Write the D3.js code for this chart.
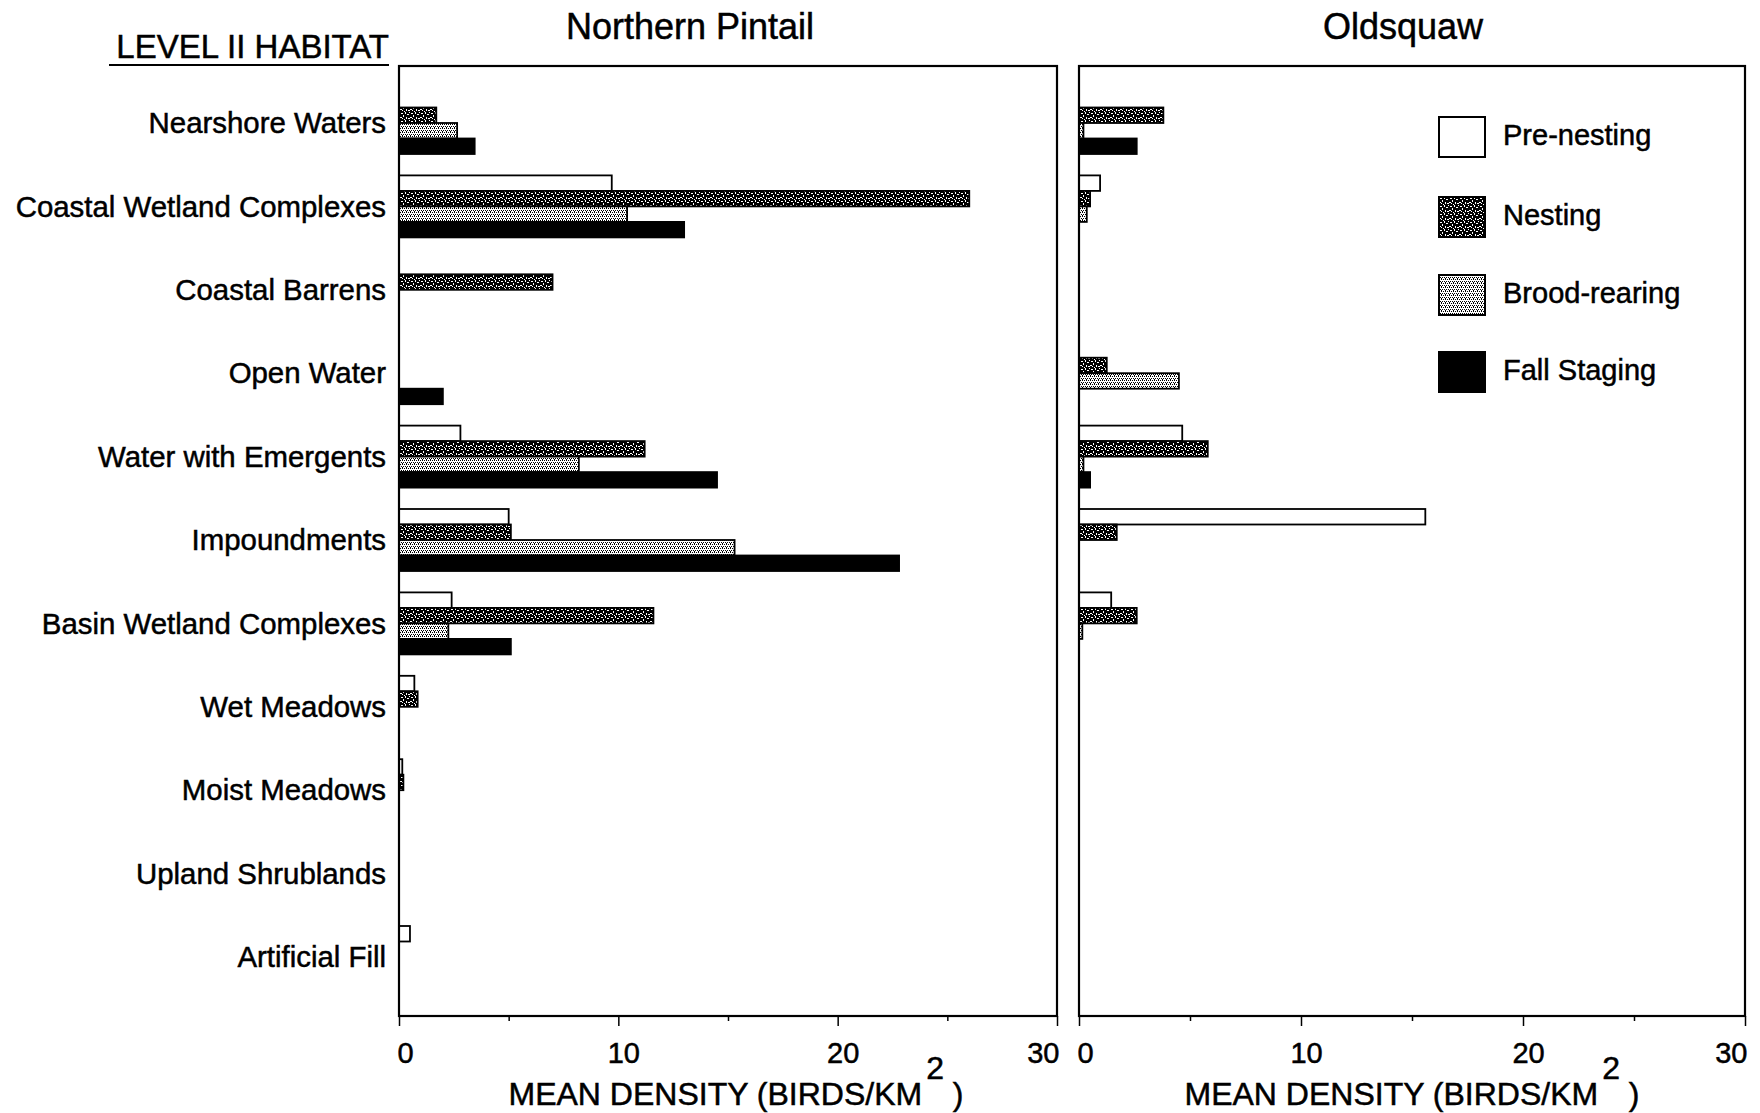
<!DOCTYPE html>
<html>
<head>
<meta charset="utf-8">
<script src="https://cdn.jsdelivr.net/npm/d3@7"></script>
<style>
  body { margin: 0; background: #fff; }
  text { font-family: "Liberation Sans", Arial, sans-serif; fill: #000; stroke: #000; stroke-width: 0.5px; }
</style>
</head>
<body>
<div id="chart"></div>
<script>
// habitat categories (top to bottom) and the four seasons
const habitats = ["Nearshore Waters", "Coastal Wetland Complexes", "Coastal Barrens", "Open Water",
    "Water with Emergents", "Impoundments", "Basin Wetland Complexes", "Wet Meadows",
    "Moist Meadows", "Upland Shrublands", "Artificial Fill"];
const seasons = ["Pre-nesting", "Nesting", "Brood-rearing", "Fall Staging"];

// mean density (birds / km2)
const pintailPre     = [0,    9.7,  0,   0,    2.8,  5.0,  2.4,  0.7,  0.15, 0, 0.5];
const pintailNesting = [1.7,  26.0, 7.0, 0,    11.2, 5.1,  11.6, 0.85, 0.2,  0, 0];
const pintailBrood   = [2.65, 10.4, 0,   0,    8.2,  15.3, 2.25, 0,    0,    0, 0];
const pintailFall    = [3.45, 13.0, 0,   2.0,  14.5, 22.8, 5.1,  0,    0,    0, 0];

const oldsquawPre     = [0,   0.95, 0, 0,    4.65, 15.6, 1.45, 0, 0, 0, 0];
const oldsquawNesting = [3.8, 0.5,  0, 1.25, 5.8,  1.7,  2.6,  0, 0, 0, 0];
const oldsquawBrood   = [0.2, 0.35, 0, 4.5,  0.2,  0,    0.15, 0, 0, 0, 0];
const oldsquawFall    = [2.6, 0,    0, 0,    0.5,  0,    0,    0, 0, 0, 0];

const xTicksMajor = [0, 10, 20, 30];
const xTicksMinor = [5, 15, 25];

let width = 1760, height = 1113;
let plotTop = 66, plotBottom = 1016;

let svg = d3.select("#chart").append("svg")
    .attr("width", width)
    .attr("height", height);

// fill patterns for the seasons
let defs = svg.append("defs");

// nesting: black with white speckles
let nest = defs.append("pattern")
    .attr("id", "nesting")
    .attr("patternUnits", "userSpaceOnUse")
    .attr("width", 10).attr("height", 8);
nest.append("rect").attr("width", 10).attr("height", 8).attr("fill", "#000");
[[1, 1, 2, 1], [5, 0, 1, 2], [3, 3, 1, 2], [7, 2, 2, 1], [0, 5, 2, 1], [6, 5, 1, 2],
 [8, 6, 2, 1], [4, 7, 1, 1], [9, 0, 1, 1], [2, 6, 1, 1]].forEach(function (s) {
    nest.append("rect").attr("x", s[0]).attr("y", s[1]).attr("width", s[2]).attr("height", s[3]).attr("fill", "#fff");
});

// brood-rearing: light stipple
let brood = defs.append("pattern")
    .attr("id", "brood")
    .attr("patternUnits", "userSpaceOnUse")
    .attr("width", 4).attr("height", 4);
brood.append("rect").attr("width", 4).attr("height", 4).attr("fill", "#fff");
[[0, 0], [2, 0], [1, 2], [3, 2], [2, 3]].forEach(function (p) {
    brood.append("rect").attr("x", p[0]).attr("y", p[1]).attr("width", 1).attr("height", 1).attr("fill", "#000");
});

let fills = {
    "Pre-nesting": "#fff",
    "Nesting": "url(#nesting)",
    "Brood-rearing": "url(#brood)",
    "Fall Staging": "#000"
};

// shared vertical scales
let y = d3.scalePoint().domain(habitats).range([123, 957]);
let sub = d3.scaleBand().domain(seasons).range([-31, 31]);

// category labels
svg.append("g").selectAll("text")
    .data(habitats)
    .enter().append("text")
    .attr("x", 386)
    .attr("y", function (d) { return y(d); })
    .attr("dy", "0.35em")
    .attr("text-anchor", "end")
    .style("font-size", "29.4px")
    .text(function (d) { return d; });

// "LEVEL II HABITAT" heading
svg.append("text")
    .attr("x", 389).attr("y", 58)
    .attr("text-anchor", "end")
    .style("font-size", "33px")
    .text("LEVEL II HABITAT");
svg.append("line")
    .attr("x1", 109).attr("x2", 389)
    .attr("y1", 65).attr("y2", 65)
    .attr("stroke", "#000").attr("stroke-width", 2);

function drawPanel(x, series, title, titleX, labelShift) {
    let g = svg.append("g");

    let rows = [];
    series.forEach(function (vals, i) {
        vals.forEach(function (v, j) {
            if (v > 0) rows.push({ habitat: habitats[j], season: seasons[i], value: v });
        });
    });

    g.selectAll("rect.bar")
        .data(rows)
        .enter().append("rect")
        .attr("class", "bar")
        .attr("x", x(0))
        .attr("y", function (d) { return y(d.habitat) + sub(d.season); })
        .attr("width", function (d) { return x(d.value) - x(0); })
        .attr("height", sub.bandwidth())
        .attr("fill", function (d) { return fills[d.season]; })
        .attr("stroke", "#000")
        .attr("stroke-width", 1.8);

    // panel frame
    g.append("rect")
        .attr("x", x(0)).attr("y", plotTop)
        .attr("width", x(30) - x(0)).attr("height", plotBottom - plotTop)
        .attr("fill", "none")
        .attr("stroke", "#000")
        .attr("stroke-width", 2.2);

    // x axis: long ticks with labels, short ticks without
    let axis = g.append("g")
        .attr("transform", "translate(0," + plotBottom + ")")
        .call(d3.axisBottom(x).tickValues(xTicksMajor).tickSize(10));
    axis.select(".domain").remove();
    axis.selectAll("line").attr("stroke-width", 1.5);
    axis.selectAll("text")
        .attr("y", 47).attr("dy", 0)
        .style("font-size", "29px")
        .style("font-family", "Liberation Sans, Arial, sans-serif")
        .attr("text-anchor", function (d) { return d == 0 ? "start" : (d == 30 ? "end" : "middle"); })
        .attr("dx", function (d) { return d == 0 ? -2 : (d == 30 ? 2 : 5); });

    let minor = g.append("g")
        .attr("transform", "translate(0," + plotBottom + ")")
        .call(d3.axisBottom(x).tickValues(xTicksMinor).tickSize(5).tickFormat(""));
    minor.select(".domain").remove();
    minor.selectAll("line").attr("stroke-width", 1.5);

    // axis title with the superscript 2
    let cx = (x(0) + x(30)) / 2 + labelShift;
    let t = g.append("text")
        .attr("x", cx).attr("y", 1105)
        .attr("text-anchor", "middle")
        .style("font-size", "32px");
    t.append("tspan").text("MEAN DENSITY (BIRDS/KM");
    t.append("tspan").attr("dy", -26).attr("dx", 4).text("2");
    t.append("tspan").attr("dy", 26).text("\u00a0)");

    // panel title
    g.append("text")
        .attr("x", titleX).attr("y", 39)
        .attr("text-anchor", "middle")
        .style("font-size", "36px")
        .text(title);
}

let xLeft = d3.scaleLinear().domain([0, 30]).range([399, 1057]);
let xRight = d3.scaleLinear().domain([0, 30]).range([1079, 1745]);

drawPanel(xLeft, [pintailPre, pintailNesting, pintailBrood, pintailFall], "Northern Pintail", 690, 8);
drawPanel(xRight, [oldsquawPre, oldsquawNesting, oldsquawBrood, oldsquawFall], "Oldsquaw", 1403, 0);

// legend
let legend = svg.append("g").selectAll("g")
    .data(seasons)
    .enter().append("g")
    .attr("transform", function (d, i) { return "translate(1439," + [117, 197, 275, 352][i] + ")"; });

legend.append("rect")
    .attr("width", 46).attr("height", 40)
    .attr("fill", function (d) { return fills[d]; })
    .attr("stroke", "#000")
    .attr("stroke-width", 2);

legend.append("text")
    .attr("x", 64).attr("y", 18)
    .attr("dy", "0.35em")
    .style("font-size", "29px")
    .text(function (d) { return d; });
</script>
</body>
</html>
